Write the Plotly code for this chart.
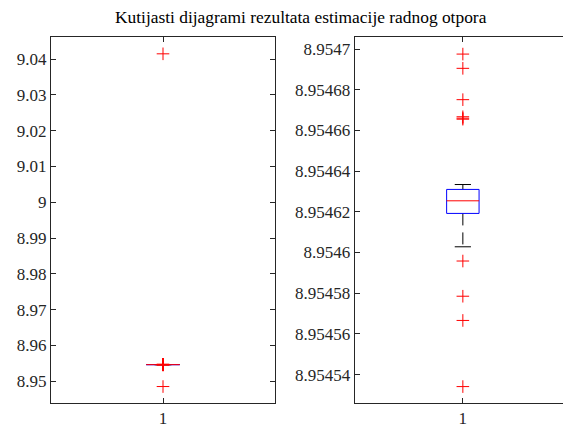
import plotly.graph_objects as go

# ---- data ----
q1 = 8.9546192
median = 8.9546254
q3 = 8.9546310
whisker_lo = 8.9546028
whisker_hi = 8.9546334
outliers = [9.0415, 8.9546975, 8.9546905, 8.9546751, 8.9546667, 8.9546660,
            8.9546655, 8.9545958, 8.9545785, 8.9545666, 8.9545341, 8.9485]
category = 1

left_ticks = [8.95, 8.96, 8.97, 8.98, 8.99, 9.0, 9.01, 9.02, 9.03, 9.04]
left_labels = ["8.95", "8.96", "8.97", "8.98", "8.99", "9", "9.01", "9.02", "9.03", "9.04"]
right_ticks = [8.95454, 8.95456, 8.95458, 8.9546, 8.95462, 8.95464, 8.95466, 8.95468, 8.9547]
right_labels = ["8.95454", "8.95456", "8.95458", "8.9546", "8.95462", "8.95464",
                "8.95466", "8.95468", "8.9547"]

title = "Kutijasti dijagrami rezultata estimacije radnog otpora"

# ---- styling ----
OFF = 8                      # browser body margin
W, H = 571 - OFF, 430 - OFF
font_family = "Liberation Serif, Times New Roman, Times, serif"
axis_color = "#262626"
hw = 0.075      # box half width (x units)
cw = 0.0375     # cap half width


def px_x(p):
    return (p - OFF) / W


def px_y(p):
    return 1 - (p - OFF) / H


fig = go.Figure()

for xa, ya in [("x", "y"), ("x2", "y2")]:
    c = category
    for a, b in ((q3, whisker_hi), (q1, whisker_lo)):
        fig.add_trace(go.Scatter(x=[c, c], y=[a, b], mode="lines",
                                 line=dict(color="black", width=1, dash="12px,7px"),
                                 xaxis=xa, yaxis=ya, showlegend=False, hoverinfo="skip"))
    for wv in (whisker_lo, whisker_hi):
        fig.add_trace(go.Scatter(x=[c - cw, c + cw], y=[wv, wv], mode="lines",
                                 line=dict(color="black", width=1),
                                 xaxis=xa, yaxis=ya, showlegend=False, hoverinfo="skip"))
    fig.add_trace(go.Scatter(x=[c - hw, c + hw, c + hw, c - hw, c - hw],
                             y=[q1, q1, q3, q3, q1], mode="lines",
                             line=dict(color="blue", width=1),
                             xaxis=xa, yaxis=ya, showlegend=False, hoverinfo="skip"))
    fig.add_trace(go.Scatter(x=[c - hw, c + hw], y=[median, median], mode="lines",
                             line=dict(color="red", width=1),
                             xaxis=xa, yaxis=ya, showlegend=False, hoverinfo="skip"))
    fig.add_trace(go.Scatter(x=[c] * len(outliers), y=outliers, mode="markers",
                             marker=dict(symbol="cross-thin", size=9,
                                         line=dict(color="red", width=1)),
                             xaxis=xa, yaxis=ya, showlegend=False, hoverinfo="skip"))

ax_common = dict(showline=True, linecolor=axis_color, linewidth=1, mirror="ticks",
                 ticks="inside", ticklen=5, tickcolor=axis_color, tickwidth=1,
                 showgrid=False, zeroline=False,
                 tickfont=dict(family=font_family, size=17, color=axis_color))

fig.update_layout(
    width=W, height=H,
    margin=dict(l=0, r=0, t=0, b=0),
    paper_bgcolor="white", plot_bgcolor="white",
    font=dict(family=font_family, color=axis_color, size=17),
    xaxis=dict(domain=[px_x(51), px_x(275)], range=[0.5, 1.5], tickvals=[category],
               ticktext=[str(category)], anchor="y", **ax_common),
    yaxis=dict(domain=[px_y(403), px_y(37)], range=[8.9439, 9.0462],
               tickvals=left_ticks, ticktext=left_labels, anchor="x", **ax_common),
    xaxis2=dict(domain=[px_x(354.7), 1.0], range=[0.5, 1.5], tickvals=[category],
                ticktext=[str(category)], anchor="y2", **ax_common),
    yaxis2=dict(domain=[px_y(403), px_y(37)], range=[8.95452603, 8.9547059],
                tickvals=right_ticks, ticktext=right_labels, anchor="x2", **ax_common),
    annotations=[dict(text=title, x=px_x(301), y=px_y(17), xref="paper", yref="paper",
                      xanchor="center", yanchor="middle", showarrow=False,
                      font=dict(family=font_family, size=17.4, color="black"))],
)

fig.write_html("out.html")
